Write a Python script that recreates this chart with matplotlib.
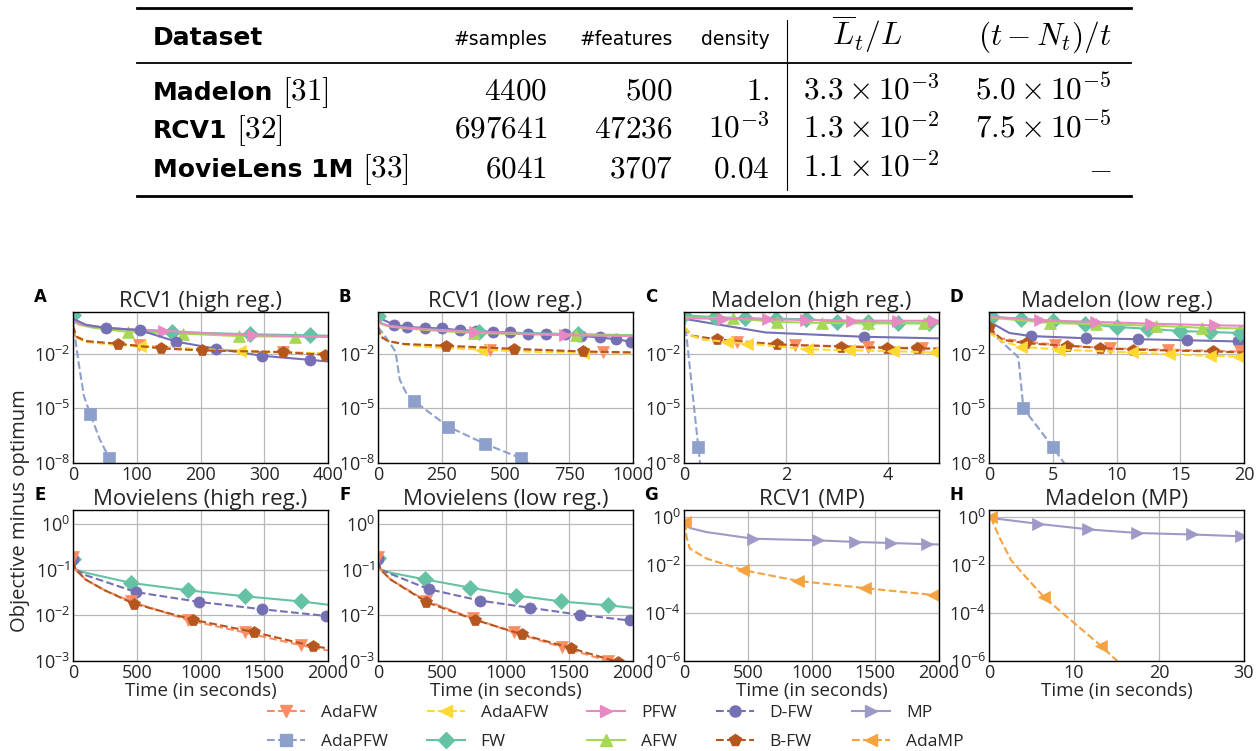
"""
Benchmark figure: dataset summary table on top, convergence curves of the
Frank-Wolfe / matching pursuit variants below (objective minus optimum vs. time).
"""

import matplotlib.pyplot as plt
from matplotlib.lines import Line2D
from matplotlib.ticker import FixedLocator, NullLocator

W, H = 1260, 751

plt.rcParams.update({
    'font.family': ['Open Sans', 'DejaVu Sans'],
    'mathtext.fontset': 'custom',
    'mathtext.rm': 'Open Sans',
    'mathtext.it': 'Open Sans:italic',
    'mathtext.bf': 'Open Sans:bold',
    'text.color': '#262626',
    'axes.labelcolor': '#262626',
    'xtick.color': '#262626',
    'ytick.color': '#262626',
    'axes.edgecolor': 'black',
    'axes.linewidth': 1.0,
    'grid.color': '#b8b8b8',
    'grid.linewidth': 0.9,
    'xtick.labelsize': 13,
    'ytick.labelsize': 13,
})

# ---------------------------------------------------------------- table data
HEADERS = ['#samples', '#features', 'density']
DATASETS = ['Madelon', 'RCV1', 'MovieLens 1M']
REFS = ['[31]', '[32]', '[33]']
N_SAMPLES = ['4400', '697641', '6041']
N_FEATURES = ['500', '47236', '3707']
DENSITY = ['1.', '10^{-3}', '0.04']
LT_RATIO = [r'3.3\times10^{-3}', r'1.3\times10^{-2}', r'1.1\times10^{-2}']
NONDROP_RATIO = [r'5.0\times10^{-5}', r'7.5\times10^{-5}', '-']

# ---------------------------------------------------------------- curve data
# each entry: (time, objective minus optimum)

# A: RCV1 (high reg.)
A_ADAFW = ([0, 5, 20, 60, 103, 200, 330, 400], [0.35, 0.09, 0.05, 0.035, 0.029, 0.017, 0.012, 0.0105])
A_ADAPFW = ([0, 4, 9, 17, 27, 42, 57, 62], [1.0, 0.05, 3e-3, 5e-5, 4.9e-6, 2e-7, 1.8e-8, 8e-9])
A_ADAAFW = ([0, 5, 20, 60, 105, 262, 400], [0.3, 0.08, 0.045, 0.033, 0.026, 0.0145, 0.0105])
A_FW = ([0, 10, 30, 70, 155, 277, 371, 400], [1.3, 0.45, 0.32, 0.24, 0.16, 0.12, 0.105, 0.10])
A_PFW = ([0, 10, 30, 70, 142, 200, 283, 400], [0.7, 0.45, 0.33, 0.24, 0.19, 0.14, 0.105, 0.088])
A_AFW = ([0, 10, 30, 87, 172, 260, 348, 400], [0.6, 0.4, 0.28, 0.16, 0.13, 0.095, 0.088, 0.085])
A_DFW = ([0, 20, 51, 105, 162, 225, 297, 371, 400], [0.85, 0.4, 0.27, 0.2, 0.047, 0.019, 0.0078, 0.0047, 0.0038])
A_BFW = ([0, 5, 20, 71, 138, 202, 330, 395, 400], [0.35, 0.09, 0.05, 0.036, 0.02, 0.0155, 0.0125, 0.0088, 0.0087])

# B: RCV1 (low reg.)
B_ADAFW = ([0, 10, 40, 100, 200, 438, 650, 882, 1000], [0.3, 0.09, 0.05, 0.035, 0.025, 0.017, 0.014, 0.0125, 0.0115])
B_ADAPFW = ([0, 39, 69, 85, 113, 141, 275, 421, 562, 620], [0.3, 0.057, 0.013, 3.9e-4, 6e-5, 2.6e-5, 1e-6, 1.1e-7, 1.8e-8, 5e-9])
B_ADAAFW = ([0, 10, 40, 100, 200, 405, 600, 804, 1000], [0.3, 0.09, 0.05, 0.033, 0.024, 0.017, 0.013, 0.0115, 0.0105])
B_FW = ([0, 10, 40, 100, 200, 396, 600, 784, 1000], [1.2, 0.5, 0.35, 0.28, 0.22, 0.165, 0.135, 0.12, 0.105])
B_PFW = ([0, 10, 40, 100, 200, 379, 550, 732, 1000], [0.9, 0.5, 0.35, 0.28, 0.22, 0.155, 0.13, 0.107, 0.095])
B_AFW = ([0, 10, 40, 100, 200, 375, 600, 778, 1000], [0.9, 0.45, 0.33, 0.26, 0.2, 0.14, 0.12, 0.11, 0.10])
B_DFW = ([0, 61, 114, 183, 252, 320, 386, 451, 519, 588, 660, 732, 797, 869, 932, 993, 1000],
         [1.0, 0.41, 0.30, 0.27, 0.25, 0.20, 0.186, 0.16, 0.15, 0.13, 0.13, 0.117, 0.095, 0.081, 0.063, 0.047, 0.046])
B_BFW = ([0, 10, 40, 100, 265, 533, 804, 1000], [0.3, 0.09, 0.05, 0.035, 0.028, 0.019, 0.0135, 0.012])

# C: Madelon (high reg.)
C_ADAFW = ([0, 0.15, 0.4, 1.03, 2.18, 3.6, 4.67, 5.0], [0.3, 0.1, 0.06, 0.045, 0.03, 0.025, 0.02, 0.02])
C_ADAPFW = ([0, 0.03, 0.28, 0.33], [1.0, 0.3, 7.6e-8, 4e-9])
C_ADAAFW = ([0, 0.15, 0.4, 0.85, 1.24, 2.41, 3.23, 4.1, 4.9, 5.0],
            [0.3, 0.1, 0.06, 0.045, 0.037, 0.018, 0.016, 0.014, 0.012, 0.012])
C_FW = ([0, 0.6, 1.2, 1.8, 2.4, 3.0, 3.6, 4.2, 4.8, 5.0], [1.3, 1.05, 0.9, 0.85, 0.8, 0.6, 0.55, 0.5, 0.47, 0.46])
C_PFW = ([0, 0.77, 1.65, 2.4, 3.3, 4.2, 4.9, 5.0], [0.9, 0.85, 0.8, 0.72, 0.68, 0.66, 0.66, 0.66])
C_AFW = ([0, 0.96, 1.82, 2.7, 3.6, 4.7, 5.0], [1.0, 0.9, 0.57, 0.5, 0.47, 0.48, 0.48])
C_DFW = ([0, 1.6, 3.52, 5.0], [0.85, 0.15, 0.087, 0.071])
C_BFW = ([0, 0.15, 0.64, 1.82, 3.08, 3.98, 4.57, 5.0], [0.3, 0.1, 0.064, 0.033, 0.025, 0.021, 0.02, 0.019])

# D: Madelon (low reg.)
D_ADAFW = ([0, 1, 2.5, 5.2, 9.5, 14, 19.7, 20], [0.2, 0.07, 0.05, 0.032, 0.02, 0.017, 0.0135, 0.013])
D_ADAPFW = ([0, 1.4, 2.3, 2.7, 5.0, 6.2], [0.2, 0.025, 0.0066, 1e-5, 7.6e-8, 5e-9])
D_ADAAFW = ([0, 1, 2.5, 5.5, 11.2, 14.1, 17.3, 19.6, 20], [0.15, 0.05, 0.025, 0.017, 0.012, 0.0095, 0.0078, 0.007, 0.0068])
D_FW = ([0.2, 2.5, 5.0, 7.5, 10, 12.5, 15, 17.3, 19.7, 20], [1.1, 0.85, 0.62, 0.45, 0.3, 0.24, 0.18, 0.16, 0.14, 0.14])
D_PFW = ([0, 4.0, 8.4, 12.7, 17.7, 20], [1.1, 0.7, 0.57, 0.46, 0.37, 0.35])
D_AFW = ([0, 4.8, 8.4, 13.1, 16.7, 20], [1.0, 0.5, 0.43, 0.35, 0.27, 0.25])
D_DFW = ([0, 1.6, 3.3, 7.6, 11.7, 15.5, 19.5, 20], [0.6, 0.14, 0.095, 0.072, 0.064, 0.056, 0.048, 0.047])
D_BFW = ([0, 1, 2.9, 6.1, 8.7, 11.3, 17.6, 20], [0.3, 0.06, 0.038, 0.028, 0.021, 0.017, 0.0135, 0.012])

# E: Movielens (high reg.)
E_FW = ([0, 20, 100, 454, 905, 1348, 1791, 2000], [0.17, 0.1, 0.085, 0.051, 0.035, 0.026, 0.02, 0.017])
E_DFW = ([0, 20, 100, 495, 990, 1486, 1981, 2000], [0.17, 0.1, 0.075, 0.032, 0.0196, 0.0135, 0.0097, 0.0095])
E_ADAFW = ([0, 20, 100, 250, 456, 905, 1348, 1791, 2000], [0.19, 0.1, 0.06, 0.035, 0.02, 0.0078, 0.0042, 0.0022, 0.0017])
E_BFW = ([0, 20, 100, 250, 475, 939, 1418, 1883, 2000], [0.15, 0.1, 0.06, 0.035, 0.018, 0.008, 0.0043, 0.0021, 0.0019])

# F: Movielens (low reg.)
F_FW = ([0, 20, 100, 366, 724, 1085, 1438, 1804, 2000], [0.18, 0.1, 0.085, 0.061, 0.04, 0.027, 0.02, 0.0165, 0.0145])
F_DFW = ([0, 20, 100, 400, 797, 1190, 1587, 1974, 2000], [0.17, 0.1, 0.08, 0.037, 0.021, 0.0146, 0.0102, 0.0077, 0.0075])
F_ADAFW = ([0, 20, 100, 374, 745, 1067, 1446, 1804, 2000], [0.19, 0.1, 0.06, 0.021, 0.0085, 0.0042, 0.002, 0.001, 0.0008])
F_BFW = ([0, 20, 100, 379, 758, 1132, 1516, 1882, 2000], [0.15, 0.1, 0.06, 0.0195, 0.008, 0.0038, 0.0019, 0.00095, 0.0008])

# G: RCV1 (MP)
G_MP = ([0, 50, 175, 542, 1052, 1340, 1620, 1903, 2000], [0.5, 0.35, 0.24, 0.127, 0.108, 0.093, 0.084, 0.075, 0.073])
G_ADAMP = ([10, 20, 45, 175, 463, 895, 1419, 1955, 2000], [0.62, 0.15, 0.05, 0.019, 0.0062, 0.0022, 0.0011, 5.7e-4, 5.4e-4])

# H: Madelon (MP)
H_MP = ([0, 5.8, 11.7, 17.4, 23.9, 29.7, 30], [0.95, 0.53, 0.31, 0.22, 0.19, 0.16, 0.16])
H_ADAMP = ([0.2, 1.2, 2.6, 4.3, 6.5, 13.2, 16], [1.0, 0.15, 0.016, 0.0033, 4.5e-4, 4.2e-6, 5e-7])

LEGEND_ORDER = ['AdaFW', 'AdaPFW', 'AdaAFW', 'FW', 'PFW', 'AFW', 'D-FW', 'B-FW', 'MP', 'AdaMP']

STYLES = {
    'AdaFW': dict(color='#fc8d62', marker='v', ls='--', ms=8.5),
    'AdaPFW': dict(color='#8da0cb', marker='s', ls='--', ms=8),
    'AdaAFW': dict(color='#ffd92f', marker='<', ls='--', ms=8.5),
    'FW': dict(color='#66c2a5', marker='D', ls='-', ms=8),
    'PFW': dict(color='#e78ac3', marker='>', ls='-', ms=8.5),
    'AFW': dict(color='#a6d854', marker='^', ls='-', ms=8.5),
    'D-FW': dict(color='#7570b3', marker='o', ls='--', ms=8),
    'B-FW': dict(color='#b5561f', marker='p', ls='--', ms=8.5),
    'MP': dict(color='#9e9ac8', marker='>', ls='-', ms=8.5),
    'AdaMP': dict(color='#f4a340', marker='<', ls='--', ms=8.5),
}


def fx(px):
    return px / W


def fy(py):
    return 1 - py / H


def draw_curve(ax, name, data, marks, ls=None):
    st = STYLES[name]
    t, y = data
    ax.plot(t, y, color=st['color'], ls=ls or st['ls'], lw=1.5,
            marker=st['marker'], ms=st['ms'], markevery=marks,
            mec=st['color'], mew=0.5)


ROW1_Y = ((1e-8, 2.0), [1e-8, 1e-5, 1e-2])
MOVIE_Y = ((1e-3, 2.0), [1e-3, 1e-2, 1e-1, 1e0])
MP_Y = ((1e-6, 2.0), [1e-6, 1e-4, 1e-2, 1e0])

panels = [
    ('A', 'RCV1 (high reg.)', (0, 400), [0, 100, 200, 300, 400], ROW1_Y, [
        ('AdaPFW', A_ADAPFW, [4, 6], None),
        ('AFW', A_AFW, [3, 4, 5, 6], None),
        ('FW', A_FW, [0, 4, 5, 6], None),
        ('PFW', A_PFW, [4, 6], None),
        ('D-FW', A_DFW, [2, 3, 4, 5, 6, 7], '-'),
        ('AdaFW', A_ADAFW, [4, 6], None),
        ('AdaAFW', A_ADAAFW, [4, 5], None),
        ('B-FW', A_BFW, [3, 4, 5, 6, 7], None),
    ]),
    ('B', 'RCV1 (low reg.)', (0, 1000), [0, 250, 500, 750, 1000], ROW1_Y, [
        ('AdaPFW', B_ADAPFW, [5, 6, 7, 8], None),
        ('D-FW', B_DFW, list(range(1, 16)), '-'),
        ('FW', B_FW, [0, 5, 7], None),
        ('AFW', B_AFW, [5, 7], None),
        ('PFW', B_PFW, [5, 7], None),
        ('AdaFW', B_ADAFW, [5, 7], None),
        ('AdaAFW', B_ADAAFW, [5, 7], None),
        ('B-FW', B_BFW, [4, 5, 6], None),
    ]),
    ('C', 'Madelon (high reg.)', (0, 5), [0, 2, 4], ROW1_Y, [
        ('AdaPFW', C_ADAPFW, [2], None),
        ('D-FW', C_DFW, [2], '-'),
        ('FW', C_FW, list(range(0, 9)), None),
        ('AFW', C_AFW, [1, 2, 3, 4, 5], None),
        ('PFW', C_PFW, [1, 2, 3, 4, 5, 6], None),
        ('AdaFW', C_ADAFW, [3, 4, 5, 6], None),
        ('B-FW', C_BFW, [2, 3, 4, 5, 6], None),
        ('AdaAFW', C_ADAAFW, [3, 4, 5, 6, 7, 8], None),
    ]),
    ('D', 'Madelon (low reg.)', (0, 20), [0, 5, 10, 15, 20], ROW1_Y, [
        ('AdaPFW', D_ADAPFW, [3, 4], None),
        ('D-FW', D_DFW, [2, 3, 4, 5, 6], '-'),
        ('FW', D_FW, list(range(0, 9)), None),
        ('AFW', D_AFW, [1, 2, 3, 4], None),
        ('PFW', D_PFW, [1, 2, 3, 4], None),
        ('AdaFW', D_ADAFW, [3, 4, 5, 6], None),
        ('B-FW', D_BFW, [0, 2, 3, 4, 5, 6], None),
        ('AdaAFW', D_ADAAFW, [2, 3, 4, 5, 6, 7], None),
    ]),
    ('E', 'Movielens (high reg.)', (0, 2000), [0, 500, 1000, 1500, 2000], MOVIE_Y, [
        ('FW', E_FW, [0, 3, 4, 5, 6], None),
        ('D-FW', E_DFW, [0, 3, 4, 5, 6], None),
        ('AdaFW', E_ADAFW, [0, 4, 5, 6, 7], None),
        ('B-FW', E_BFW, [4, 5, 6, 7], None),
    ]),
    ('F', 'Movielens (low reg.)', (0, 2000), [0, 500, 1000, 1500, 2000], MOVIE_Y, [
        ('FW', F_FW, [0, 3, 4, 5, 6, 7], None),
        ('D-FW', F_DFW, [0, 3, 4, 5, 6, 7], None),
        ('AdaFW', F_ADAFW, [0, 3, 4, 5, 6, 7], None),
        ('B-FW', F_BFW, [3, 4, 5, 6, 7], None),
    ]),
    ('G', 'RCV1 (MP)', (0, 2000), [0, 500, 1000, 1500, 2000], MP_Y, [
        ('MP', G_MP, [3, 4, 5, 6, 7], None),
        ('AdaMP', G_ADAMP, [0, 4, 5, 6, 7], None),
    ]),
    ('H', 'Madelon (MP)', (0, 30), [0, 10, 20, 30], MP_Y, [
        ('MP', H_MP, [1, 2, 3, 4, 5], None),
        ('AdaMP', H_ADAMP, [0, 4, 5], None),
    ]),
]

fig = plt.figure(figsize=(W / 100, H / 100), dpi=100)

# ------------------------------------------------------------------ table
rule = dict(color='black', transform=fig.transFigure)
fig.add_artist(Line2D([fx(137), fx(1131)], [fy(8), fy(8)], lw=2.0, **rule))
fig.add_artist(Line2D([fx(137), fx(1131)], [fy(63), fy(63)], lw=1.3, **rule))
fig.add_artist(Line2D([fx(137), fx(1131)], [fy(196), fy(196)], lw=2.0, **rule))
fig.add_artist(Line2D([fx(787), fx(787)], [fy(20), fy(190)], lw=0.8, **rule))

name_font = dict(family='DejaVu Sans', weight='bold', size=18, color='black')
cm = dict(math_fontfamily='cm', size=22.5, color='black')
head = dict(family='DejaVu Sans', size=13.5, color='black')

fig.text(fx(153), fy(45), 'Dataset', ha='left', va='baseline', **name_font)
for label, x_right in zip(HEADERS, [547, 673, 770]):
    fig.text(fx(x_right), fy(45), label, ha='right', va='baseline', **head)
fig.text(fx(867), fy(45), r'$\overline{L}_t/L$', ha='center', va='baseline', **cm)
fig.text(fx(1112), fy(45), r'$(t-N_t)/t$', ha='right', va='baseline', **cm)

renderer = fig.canvas.get_renderer()
for i, base in enumerate([100, 138, 177]):
    name = fig.text(fx(153), fy(base), DATASETS[i], ha='left', va='baseline', **name_font)
    right = name.get_window_extent(renderer).x1
    fig.text((right + 9) / W, fy(base), '$' + REFS[i] + '$', ha='left', va='baseline', **cm)
    fig.text(fx(547), fy(base), '$' + N_SAMPLES[i] + '$', ha='right', va='baseline', **cm)
    fig.text(fx(673), fy(base), '$' + N_FEATURES[i] + '$', ha='right', va='baseline', **cm)
    fig.text(fx(770), fy(base), '$' + DENSITY[i] + '$', ha='right', va='baseline', **cm)
    fig.text(fx(803), fy(base), '$' + LT_RATIO[i] + '$', ha='left', va='baseline', **cm)
    fig.text(fx(1112), fy(base), '$' + NONDROP_RATIO[i] + '$', ha='right', va='baseline', **cm)

# ------------------------------------------------------------------ panels
col_left = [73, 378, 684, 989]
row_top = [312, 510]
ax_w, ax_h = 255, 151

for k, (letter, title, xlim, xticks, (ylim, yticks), curves) in enumerate(panels):
    r, c = divmod(k, 4)
    left, top = col_left[c], row_top[r]
    ax = fig.add_axes([fx(left), fy(top + ax_h), ax_w / W, ax_h / H])
    ax.set_yscale('log')
    for name, data, marks, ls in curves:
        draw_curve(ax, name, data, marks, ls)
    ax.set_xlim(*xlim)
    ax.set_ylim(*ylim)
    ax.xaxis.set_major_locator(FixedLocator(xticks))
    ax.yaxis.set_major_locator(FixedLocator(yticks))
    ax.yaxis.set_minor_locator(NullLocator())
    ax.tick_params(which='both', length=0, pad=2)
    ax.grid(True, which='major')
    ax.set_axisbelow(True)
    ax.set_title(title, fontsize=16, pad=3)
    if r == 1:
        ax.set_xlabel('Time (in seconds)', fontsize=13.5, labelpad=0)
    fig.text(fx(left - 33), fy(top - 15), letter, ha='center', va='center',
             family='DejaVu Sans', weight='heavy', size=12, color='black')

fig.text(fx(20), fy(511), 'Objective minus optimum', rotation=90,
         ha='center', va='center', fontsize=14.5)

# ------------------------------------------------------------------ legend
handles = []
for name in LEGEND_ORDER:
    st = STYLES[name]
    handles.append(Line2D([], [], color=st['color'], ls=st['ls'], lw=1.5,
                          marker=st['marker'], ms=st['ms'], mec=st['color']))
fig.legend(handles, LEGEND_ORDER, ncol=5, loc='upper left',
           bbox_to_anchor=(fx(267), fy(705)), frameon=False, fontsize=12.5,
           handlelength=2.2, handletextpad=0.9, columnspacing=2.25,
           labelspacing=0.75, borderpad=0, borderaxespad=0)

fig.savefig('out.png', dpi=100)
